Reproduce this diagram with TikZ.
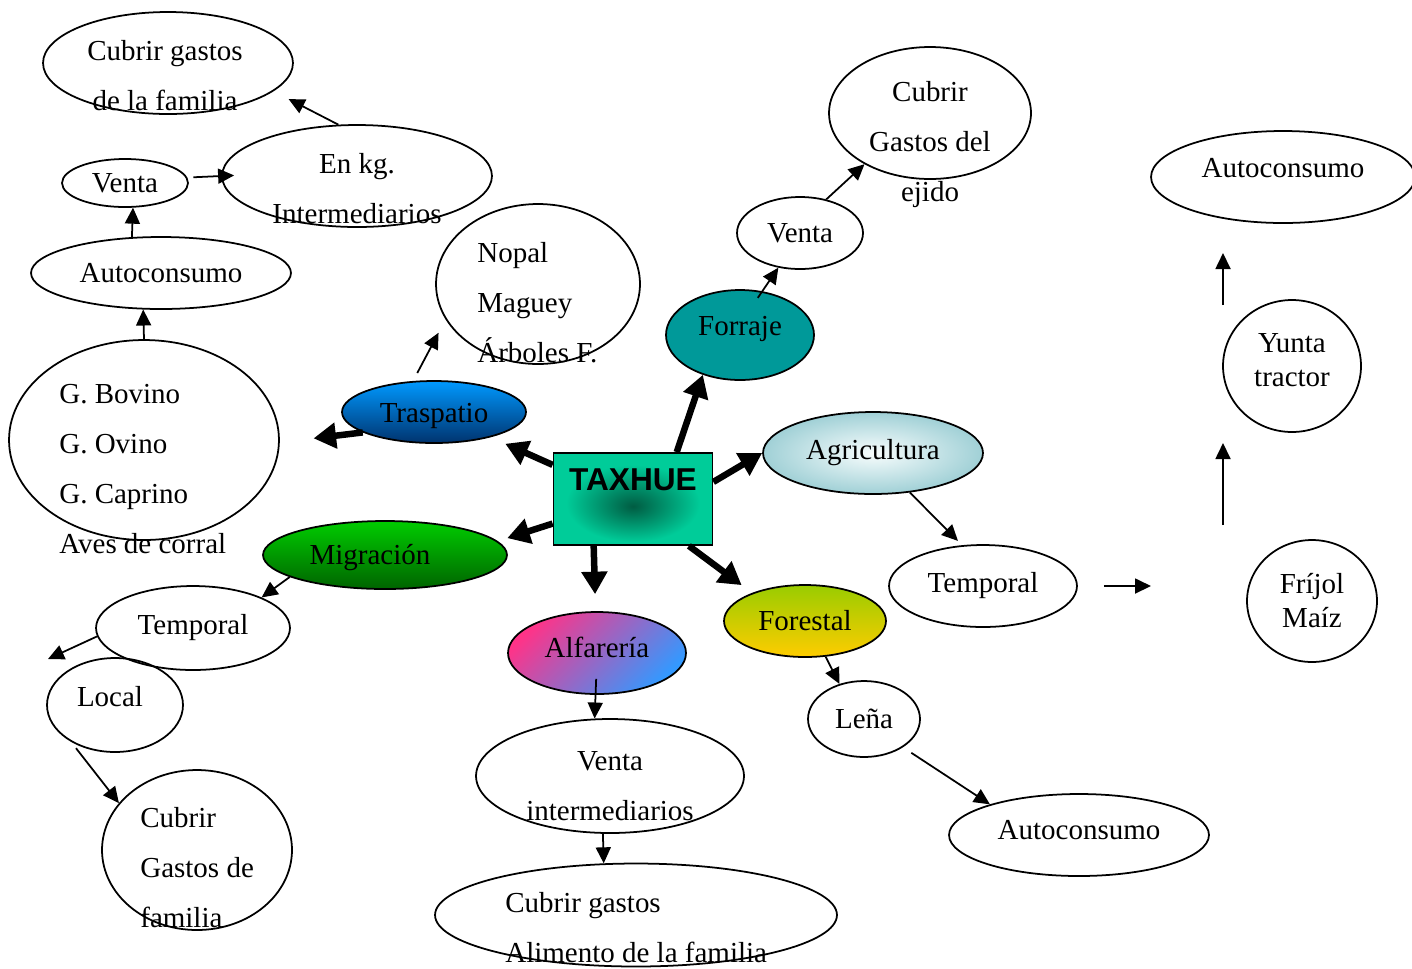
\documentclass[tikz,border=0pt]{standalone}
\usepackage{fontspec}
\setmainfont{Liberation Serif}
\newfontfamily\taxfont{Liberation Sans}
\usetikzlibrary{shapes.geometric,arrows.meta}

\definecolor{taxgreen}{RGB}{0,204,153}
\definecolor{taxdark}{RGB}{0,92,66}
\definecolor{traspup}{RGB}{0,153,255}
\definecolor{traspdown}{RGB}{0,51,110}
\definecolor{forrajecol}{RGB}{0,153,153}
\definecolor{agrilight}{RGB}{248,253,253}
\definecolor{agridark}{RGB}{160,208,214}
\definecolor{forestup}{RGB}{153,204,0}
\definecolor{forestdown}{RGB}{255,204,0}
\definecolor{alfapink}{RGB}{255,51,136}
\definecolor{alfablue}{RGB}{51,153,255}
\definecolor{migraup}{RGB}{0,204,0}
\definecolor{migradown}{RGB}{0,100,0}

\pgfdeclareradialshading{taxshade}{\pgfpoint{0bp}{-4bp}}{color(0bp)=(taxdark); color(21bp)=(taxgreen); color(50bp)=(taxgreen)}

\begin{document}
\begin{tikzpicture}[x=0.02cm, y=-0.02cm,
  ell/.style={ellipse, draw, line width=1pt, inner sep=0pt, font=\fontsize{16.5}{20}\selectfont},
  txt/.style={inner sep=0pt, align=left, font=\fontsize{16.5}{28.45}\selectfont},
  arr/.style={line width=1pt, -{Triangle[length=0.32cm,width=0.3cm]}},
  big/.style={line width=0.13cm, -{Triangle[length=0.45cm,width=0.5cm]}}]

\path[use as bounding box, fill=white] (0,0) rectangle (1412,968);

\node[ell, minimum width=5cm, minimum height=2.04cm] (cgf) at (168,63) {};
\node[txt, align=center] (cgfT) at (165,76) {Cubrir gastos\\de la familia};
\node[ell, minimum width=5.4cm, minimum height=2.04cm] (enkg) at (357,176) {};
\node[txt, align=center] (enkgT) at (357,189) {En kg.\\Intermediarios};
\node[ell, minimum width=2.52cm, minimum height=0.96cm] (ventaL) at (125,183) {Venta};
\node[ell, minimum width=5.2cm, minimum height=1.44cm] (autoL) at (161,273) {Autoconsumo};
\node[ell, minimum width=5.4cm, minimum height=4cm] (ganado) at (144,440) {};
\node[txt, anchor=west] (ganadoT) at (59,469) {G. Bovino\\G. Ovino\\G. Caprino\\Aves de corral};
\node[ell, minimum width=4.08cm, minimum height=3.2cm] (nopal) at (538,284) {};
\node[txt, anchor=west] (nopalT) at (477,303) {Nopal\\Maguey\\Árboles F.};
\node[ell, top color=traspup, bottom color=traspdown, minimum width=3.68cm, minimum height=1.24cm] (trasp) at (434,412) {};
\node[txt] (traspT) at (434,416) {Traspatio};

\node[draw, line width=1pt, shading=taxshade, minimum width=3.18cm, minimum height=1.84cm, inner sep=0pt] (taxhue) at (633,499) {};
\node[inner sep=0pt, font=\taxfont\bfseries\fontsize{18}{20}\selectfont] (taxT) at (633,480) {TAXHUE};

\node[ell, fill=forrajecol, minimum width=2.96cm, minimum height=1.8cm] (forraje) at (740,335) {};
\node[txt] (forrajeT) at (740,329) {Forraje};
\node[ell, minimum width=2.52cm, minimum height=1.44cm] (ventaF) at (800,233) {Venta};
\node[ell, minimum width=4.04cm, minimum height=2.64cm] (ejido) at (930,113) {};
\node[txt, align=center] (ejidoT) at (930,145) {Cubrir\\Gastos del\\ejido};
\node[ell, minimum width=5.28cm, minimum height=1.84cm] (autoR) at (1283,177) {};
\node[txt] (autoRT) at (1283,168) {Autoconsumo};
\node[ell, minimum width=2.76cm, minimum height=2.64cm] (yunta) at (1292,366) {};
\node[txt, align=center, font=\fontsize{16.5}{19.4}\selectfont] (yuntaT) at (1292,360) {Yunta\\tractor};
\node[ell, align=center, font=\fontsize{16.5}{19.4}\selectfont, minimum width=2.6cm, minimum height=2.44cm] (frijol) at (1312,601) {Fríjol\\Maíz};
\node[ell, inner color=agrilight, outer color=agridark, minimum width=4.4cm, minimum height=1.64cm] (agri) at (873,453) {Agricultura};
\node[ell, minimum width=3.76cm, minimum height=1.64cm] (tempR) at (983,586) {Temporal};
\node[ell, top color=forestup, bottom color=forestdown, minimum width=3.24cm, minimum height=1.44cm] (forestal) at (805,621) {Forestal};
\node[ell, minimum width=2.24cm, minimum height=1.52cm] (lena) at (864,719) {Leña};
\node[ell, minimum width=5.2cm, minimum height=1.64cm] (autoB) at (1079,835) {};
\node[txt] (autoBT) at (1079,830) {Autoconsumo};

\node[ell, top color=alfapink, bottom color=alfablue, shading angle=45, minimum width=3.56cm, minimum height=1.64cm] (alfa) at (597,653) {};
\node[txt] (alfaT) at (597,647) {Alfarería};
\node[ell, minimum width=5.36cm, minimum height=2.28cm] (ventaI) at (610,776) {};
\node[txt, align=center] (ventaIT) at (610,786) {Venta\\intermediarios};
\node[ell, minimum width=8.04cm, minimum height=2.06cm] (cgAlim) at (636,915) {};
\node[txt, anchor=west] (cgAlimT) at (505,928) {Cubrir gastos\\Alimento de la familia};

\node[ell, top color=migraup, bottom color=migradown, minimum width=4.88cm, minimum height=1.36cm] (migra) at (385,555) {};
\node[txt] (migraT) at (370,558) {Migración};
\node[ell, minimum width=3.88cm, minimum height=1.68cm] (tempL) at (193,628) {Temporal};
\node[ell, minimum width=2.72cm, minimum height=1.88cm] (local) at (115,705) {};
\node[txt] (localT) at (110,697) {Local};
\node[ell, minimum width=3.8cm, minimum height=3.2cm] (cgfam) at (197,850) {};
\node[txt, anchor=west] (cgfamT) at (140,868) {Cubrir\\Gastos de\\familia};

\coordinate (tempEnd) at (1151,586);
\coordinate (upA) at (1223,525);
\coordinate (upB) at (1223,443);
\coordinate (upC) at (1223,305);
\coordinate (upD) at (1223,253);
\coordinate (localEnd) at (48,659);

\draw[arr, shorten >=0.34cm] (enkg.110) -- (cgf.-15);
\draw[arr, shorten <=0.12cm, shorten >=-0.26cm] (ventaL.5) -- (enkg.west);
\draw[arr] (autoL.129) -- (ventaL.-72);
\draw[arr] (ganado.north) -- (autoL.244);
\draw[arr, shorten <=0.18cm, shorten >=0.3cm] (trasp.124) -- (nopal.201);
\draw[big, shorten >=0.68cm] (trasp.196) -- (ganado.-1);
\draw[big, shorten >=0.32cm] (taxhue.157) -- (trasp.-24);
\draw[big] (taxhue.47) -- (forraje.227);
\draw[arr, shorten <=-0.16cm] (forraje.63) -- (ventaF.238);
\draw[arr] (ventaF.52) -- (ejido.218);
\draw[big] (taxhue.12) -- (agri.west);
\draw[arr, shorten >=0.12cm] (agri.-47) -- (tempR.117);
\draw[arr, shorten <=0.52cm] (tempR.east) -- (tempEnd);
\draw[arr] (upA) -- (upB);
\draw[arr] (upC) -- (upD);
\draw[big, shorten >=0.26cm] (taxhue.-40) -- (forestal.152);
\draw[arr] (forestal.-60) -- (lena.125);
\draw[arr, shorten <=0.2cm] (lena.-36) -- (autoB.161);
\draw[big, shorten >=0.34cm] (taxhue.230) -- (alfa.92);
\draw[arr, shorten <=-0.32cm] (alfa.268) -- (ventaI.105);
\draw[arr] (ventaI.-97) -- (cgAlim.122);
\draw[big, shorten >=0.2cm] (taxhue.197) -- (migra.7);
\draw[arr] (migra.193) -- (tempL.24);
\draw[arr] (tempL.185) -- (localEnd);
\draw[arr, shorten <=0.16cm] (local.220) -- (cgfam.149);

\end{tikzpicture}
\end{document}
